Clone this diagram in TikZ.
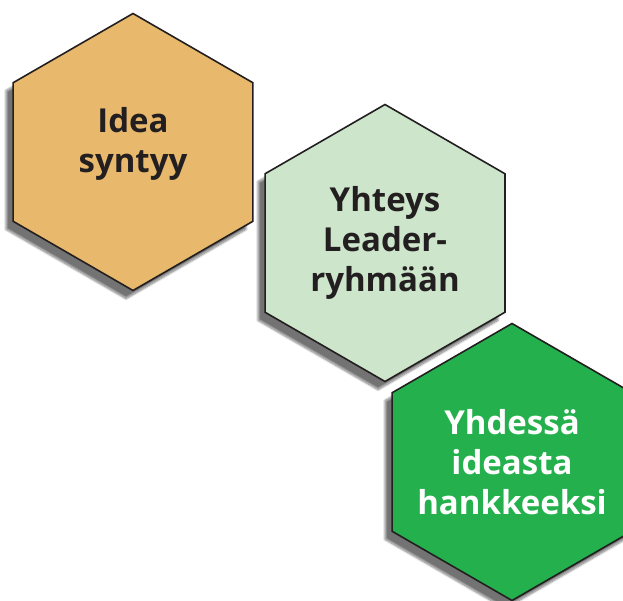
\documentclass[tikz,border=0pt]{standalone}
\usepackage{fontspec}
\setmainfont{Open Sans}
\usetikzlibrary{shapes.geometric,shadows.blur}
\definecolor{ideaorange}{HTML}{E8B96C}
\definecolor{leadergreen}{HTML}{CCE5CB}
\definecolor{hankegreen}{HTML}{24B14D}
\definecolor{hexline}{HTML}{231F20}
\tikzset{
  hexfont/.style={text=hexline, align=center, font=\bfseries\fontsize{33}{40}\selectfont},
  hexbox/.style={regular polygon, regular polygon sides=6, shape border rotate=30,
    minimum size=277pt, inner sep=-30pt, outer sep=0pt, draw=hexline, line width=1.6pt,
    hexfont,
    blur shadow={shadow xshift=-7pt, shadow yshift=-8pt, shadow blur steps=12, shadow opacity=55}}
}
\begin{document}
\begin{tikzpicture}[x=1pt,y=-1pt]
\useasboundingbox (0,0) rectangle (623,600);
\node[hexbox, fill=ideaorange] (idea) at (133,152) {};
\node[hexfont] (ideatext) at (133,144) {Idea\\syntyy};
\node[hexbox, fill=leadergreen] (leader) at (385,243) {Yhteys\\Leader-\\ryhmään};
\node[hexbox, fill=hankegreen, text=white] (hanke) at (512,462) {Yhdessä\\ideasta\\hankkeeksi};
\end{tikzpicture}
\end{document}
